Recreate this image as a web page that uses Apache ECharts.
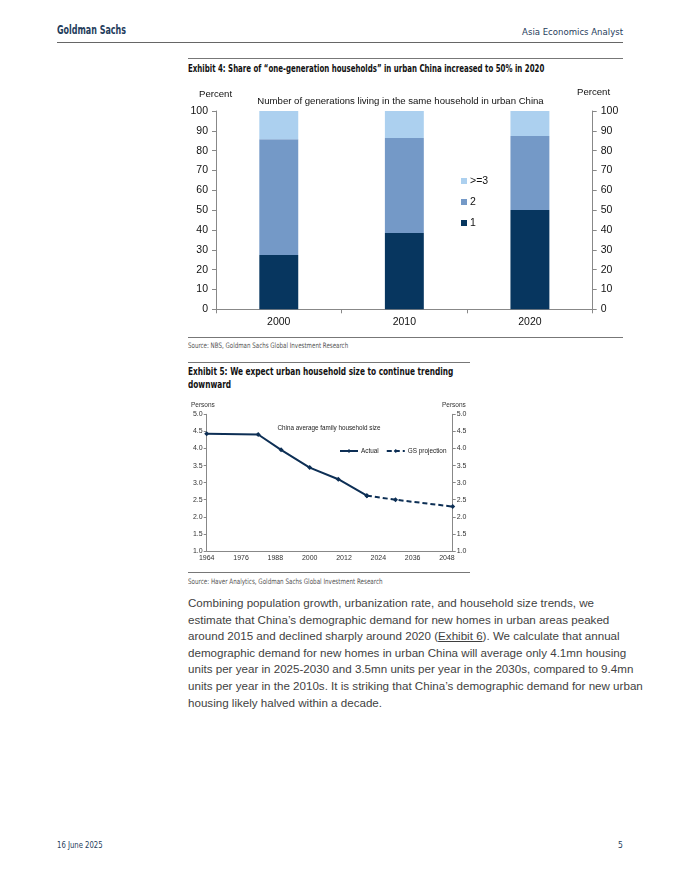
<!DOCTYPE html>
<html><head><meta charset="utf-8">
<script src="https://cdn.jsdelivr.net/npm/echarts@6/dist/echarts.min.js"></script>
<style>
html,body{margin:0;padding:0;background:#fff;}
body{width:680px;height:880px;position:relative;overflow:hidden;font-family:"Liberation Sans",Arial,sans-serif;}
.abs{position:absolute;white-space:nowrap;}
.cond{font-family:"DejaVu Sans Condensed","Liberation Sans",sans-serif;transform-origin:0 0;}
.hdr{color:#1f3d5c;}
.rule{position:absolute;height:0;border-top:1px solid #777;}
.para{position:absolute;left:188px;top:595px;font-size:11.6px;line-height:16.6px;color:#3f3f3f;font-family:"Liberation Sans",Arial,sans-serif;white-space:nowrap;}
</style></head>
<body>
<div class="abs cond hdr" style="left:57px;top:23px;font-size:12px;font-weight:bold;transform:scaleX(0.74);">Goldman Sachs</div>
<div class="abs cond hdr" style="right:57px;top:26px;font-size:9.5px;">Asia Economics Analyst</div>
<div class="rule" style="left:57px;width:566px;top:42px;border-top-color:#666;"></div>

<div class="rule" style="left:188px;width:435px;top:58px;"></div>
<div class="abs cond" style="left:188px;top:63px;font-size:10px;font-weight:bold;color:#111;transform:scaleX(0.78);">Exhibit 4: Share of “one-generation households” in urban China increased to 50% in 2020</div>
<div id="c1" class="abs" style="left:180px;top:80px;width:450px;height:250px;"></div>
<div class="rule" style="left:188px;width:435px;top:337px;"></div>
<div class="abs cond" style="left:188px;top:341px;font-size:7.5px;color:#555;transform:scaleX(0.82);">Source: NBS, Goldman Sachs Global Investment Research</div>

<div class="rule" style="left:188px;width:282px;top:362px;"></div>
<div class="abs cond" style="left:188px;top:366px;font-size:10px;font-weight:bold;color:#111;line-height:12.5px;transform:scaleX(0.82);">Exhibit 5: We expect urban household size to continue trending<br>downward</div>
<div id="c2" class="abs" style="left:180px;top:395px;width:300px;height:175px;"></div>
<div class="rule" style="left:188px;width:282px;top:572px;"></div>
<div class="abs cond" style="left:188px;top:577px;font-size:7.5px;color:#555;transform:scaleX(0.83);">Source: Haver Analytics, Goldman Sachs Global Investment Research</div>

<div class="para">Combining population growth, urbanization rate, and household size trends, we<br>estimate that China’s demographic demand for new homes in urban areas peaked<br>around 2015 and declined sharply around 2020 (<u>Exhibit 6</u>). We calculate that annual<br>demographic demand for new homes in urban China will average only 4.1mn housing<br>units per year in 2025-2030 and 3.5mn units per year in the 2030s, compared to 9.4mn<br>units per year in the 2010s. It is striking that China’s demographic demand for new urban<br>housing likely halved within a decade.</div>

<div class="abs cond hdr" style="left:57px;top:840px;font-size:8.5px;transform:scaleX(0.9);">16 June 2025</div>
<div class="abs cond hdr" style="left:618px;top:840px;font-size:8.5px;">5</div>

<script>
// Exhibit 4 data
const genYears = ['2000','2010','2020'];
const gen1 = [27.4, 38.5, 50.1];
const gen2 = [58.3, 47.9, 37.3];
const gen3plus = [14.3, 13.6, 12.6];
const pctTicks = [0,10,20,30,40,50,60,70,80,90,100];

// Exhibit 5 data
const actualYears = [1964, 1982, 1990, 2000, 2010, 2020];
const actualSize = [4.43, 4.41, 3.96, 3.44, 3.10, 2.62];
const projYears = [2020, 2030, 2050];
const projSize = [2.62, 2.50, 2.30];

const ax = '#888';
const c1 = echarts.init(document.getElementById('c1'));
const yAx1 = (pos) => ({
  type:'value', position:pos, min:0, max:100, interval:10,
  axisLine:{show:true,lineStyle:{color:ax}},
  axisTick:{show:true,length:4,lineStyle:{color:ax}},
  splitLine:{show:false},
  axisLabel:{color:'#111',fontSize:10.5,fontFamily:'Liberation Sans',margin:8}
});
c1.setOption({
  animation:false,
  textStyle:{fontFamily:'Liberation Sans'},
  grid:{left:36,top:31,width:376.7,height:198.3},
  title:{text:'Number of generations living in the same household in urban China',left:215.5,top:11,textAlign:'center',
    textStyle:{fontSize:9.6,fontWeight:'normal',color:'#111'}},
  graphic:[
    {type:'text',left:19,top:9,style:{text:'Percent',fill:'#111',font:'9.6px Liberation Sans'}},
    {type:'text',left:397,top:7,style:{text:'Percent',fill:'#111',font:'9.6px Liberation Sans'}}
  ],
  legend:{orient:'vertical',left:276,top:90,itemWidth:6,itemHeight:6,itemGap:9,icon:'rect',
    data:['>=3','2','1'],textStyle:{fontSize:10.5,color:'#111',lineHeight:12,padding:[0,0,0,-2]}},
  xAxis:{type:'category',data:genYears,
    axisLine:{lineStyle:{color:ax}},axisTick:{show:true,length:4,lineStyle:{color:ax}},
    axisLabel:{color:'#111',fontSize:10.5,margin:7}},
  yAxis:[yAx1('left'),yAx1('right')],
  series:[
    {name:'1',type:'bar',stack:'s',data:gen1,barWidth:'31%',itemStyle:{color:'#07365f'}},
    {name:'2',type:'bar',stack:'s',data:gen2,itemStyle:{color:'#7499c7'}},
    {name:'>=3',type:'bar',stack:'s',data:gen3plus,itemStyle:{color:'#acd0ef'}}
  ]
});

const c2 = echarts.init(document.getElementById('c2'));
const yAx2 = (pos) => ({
  type:'value', position:pos, min:1, max:5, interval:0.5,
  axisLine:{show:true,lineStyle:{color:ax}},
  axisTick:{show:true,length:3,lineStyle:{color:ax}},
  splitLine:{show:false},
  axisLabel:{color:'#333',fontSize:7,margin:4,formatter:v=>v.toFixed(1)}
});
const navy = '#0d2f55';
c2.setOption({
  animation:false,
  textStyle:{fontFamily:'Liberation Sans'},
  grid:{left:26.7,top:19.3,width:246,height:136.7},
  title:{text:'China average family household size',left:144,top:25,textAlign:'center',
    textStyle:{fontSize:6.3,fontWeight:'normal',color:'#222'}},
  graphic:[
    {type:'text',left:11,top:7,style:{text:'Persons',font:'6.5px Liberation Sans',fill:'#333'}},
    {type:'text',left:262,top:7,style:{text:'Persons',font:'6.5px Liberation Sans',fill:'#333'}}
  ],
  legend:{left:154,top:48,itemWidth:18,itemHeight:5,itemGap:7,
    data:['Actual','GS projection'],textStyle:{fontSize:6.4,color:'#222',padding:[0,0,0,-2]}},
  xAxis:{type:'value',min:1964,max:2050,interval:12,
    axisLine:{lineStyle:{color:ax}},axisTick:{show:false},splitLine:{show:false},
    axisLabel:{color:'#333',fontSize:7,margin:4,showMaxLabel:false,formatter:v=>String(v)}},
  yAxis:[yAx2('left'),yAx2('right')],
  series:[
    {name:'Actual',type:'line',data:actualYears.map((y,i)=>[y,actualSize[i]]),
      symbol:'diamond',symbolSize:5,lineStyle:{color:navy,width:2},itemStyle:{color:navy}},
    {name:'GS projection',type:'line',data:projYears.map((y,i)=>[y,projSize[i]]),
      symbol:'diamond',symbolSize:5,lineStyle:{color:navy,width:2,type:[5,3]},itemStyle:{color:navy}}
  ]
});
</script>
</body></html>
